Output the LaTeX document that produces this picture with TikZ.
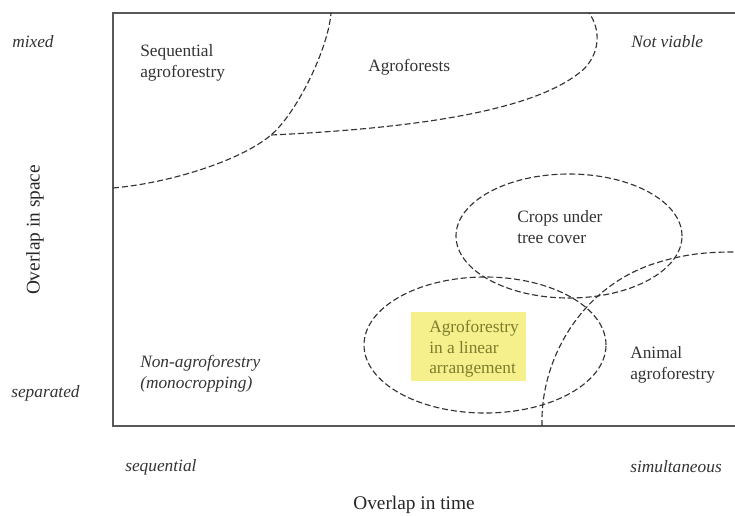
\documentclass[tikz,border=0pt]{standalone}
\usepackage{fontspec}
\setmainfont{Liberation Serif}
\usetikzlibrary{shapes.geometric}
\definecolor{hl}{RGB}{245,239,140}
\definecolor{hltext}{RGB}{125,125,45}
\begin{document}
\begin{tikzpicture}[x=0.75pt,y=-0.75pt,
  lbl/.style={inner sep=0pt, anchor=west, align=left, font=\fontsize{13}{15.5}\selectfont, text=black!80},
  ilbl/.style={lbl, font=\fontsize{13}{15.5}\selectfont\itshape},
  axt/.style={inner sep=0pt, font=\fontsize{14.5}{17}\selectfont, text=black!85},
  frame/.style={draw=black!65, line width=1.1pt},
  zone/.style={draw=black!80, line width=0.85pt, dash pattern=on 4.5pt off 2.2pt}]
\useasboundingbox (0,0) rectangle (735,515);
% frame
\coordinate (tr) at (735,13);
\coordinate (tl) at (113,13);
\coordinate (bl) at (113,426);
\coordinate (br) at (735,426);
\draw[frame] (tr) -- (tl) -- (bl) -- (br);
% zones
\coordinate (s0) at (113,188);
\coordinate (jn) at (271,135);
\coordinate (s1) at (331,13);
\coordinate (a1) at (589,13);
\draw[zone] (s0) .. controls (170,183) and (241,160.5) .. (jn)
  .. controls (296,114) and (328,50) .. (s1);
\draw[zone] (jn) .. controls (420,128) and (540,110) .. (585,68)
  .. controls (603,48) and (598,25) .. (a1);
\node[zone, ellipse, minimum width=226*0.75pt, minimum height=124*0.75pt, inner sep=0pt] (crops) at (569,236) {};
\node[zone, ellipse, minimum width=242*0.75pt, minimum height=136*0.75pt, inner sep=0pt] (lin) at (485,345) {};
\coordinate (an0) at (542,426);
\coordinate (an1) at (735,252);
\draw[zone] (an0) .. controls (540,360) and (580,290) .. (650,265)
  .. controls (685,253) and (710,252) .. (an1);
% labels
\node[ilbl] (mixed) at (12,42) {mixed};
\node[ilbl] (sep) at (11,393) {separated};
\node[axt, rotate=90] (ospace) at (35,230) {Overlap in space};
\node[ilbl] (seq) at (125,467) {sequential};
\node[ilbl] (sim) at (630,467) {simultaneous};
\node[axt] (otime) at (414,505) {Overlap in time};
\node[lbl] (seqaf) at (140,63) {Sequential\\agroforestry};
\node[lbl] (af) at (368,67) {Agroforests};
\node[ilbl] (nv) at (631,42) {Not viable};
\node[lbl] (cut) at (517,227) {Crops under\\tree cover};
\fill[hl] (411,312) rectangle (526,381);
\node[lbl, text=hltext] (linear) at (429,349) {Agroforestry\\in a linear\\arrangement};
\node[ilbl] (non) at (140,374) {Non-agroforestry\\(monocropping)};
\node[lbl] (anim) at (630,365) {Animal\\agroforestry};
\end{tikzpicture}
\end{document}
